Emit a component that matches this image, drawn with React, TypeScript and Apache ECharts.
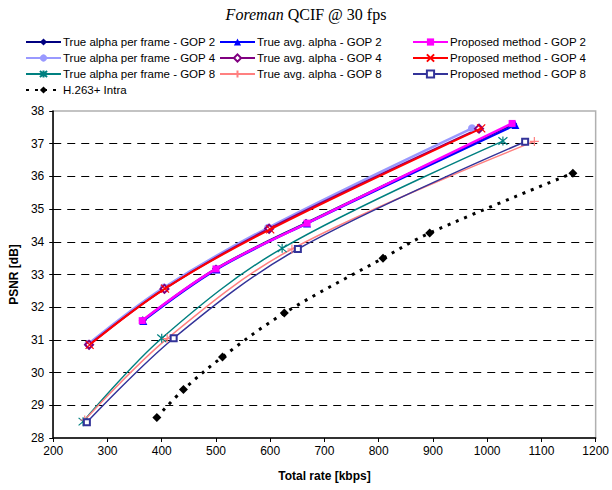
import React, { useEffect, useRef } from "react";
import * as echarts from "echarts";

// ---------- data ----------
const xTicks = [200, 300, 400, 500, 600, 700, 800, 900, 1000, 1100, 1200];
const yTicks = [28, 29, 30, 31, 32, 33, 34, 35, 36, 37, 38];

const gop2PerFrameRate = [365, 500, 666, 1048];
const gop2PerFramePsnr = [31.6, 33.18, 34.58, 37.6];
const gop2AvgRate = [366, 501, 668, 1052];
const gop2AvgPsnr = [31.58, 33.15, 34.56, 37.57];
const gop2PropRate = [364, 500, 668, 1046];
const gop2PropPsnr = [31.59, 33.17, 34.57, 37.62];

const gop4PerFrameRate = [265, 404, 596, 972];
const gop4PerFramePsnr = [30.88, 32.6, 34.43, 37.47];
const gop4AvgRate = [266, 405, 598, 985];
const gop4AvgPsnr = [30.85, 32.56, 34.4, 37.46];
const gop4PropRate = [267, 406, 600, 989];
const gop4PropPsnr = [30.85, 32.57, 34.38, 37.47];

const gop8PerFrameRate = [255, 400, 622, 1029];
const gop8PerFramePsnr = [28.5, 31.05, 33.8, 37.08];
const gop8AvgRate = [258, 410, 640, 1087];
const gop8AvgPsnr = [28.55, 31.04, 33.78, 37.07];
const gop8PropRate = [262, 422, 651, 1070];
const gop8PropPsnr = [28.48, 31.05, 33.78, 37.06];

const intraRate = [391, 440, 512, 626, 808, 894, 1158];
const intraPsnr = [28.63, 29.48, 30.48, 31.82, 33.5, 34.27, 36.1];

const names = [
  "True alpha per frame - GOP 2",
  "True avg. alpha - GOP 2",
  "Proposed method - GOP 2",
  "True alpha per frame - GOP 4",
  "True avg. alpha - GOP 4",
  "Proposed method - GOP 4",
  "True alpha per frame - GOP 8",
  "True avg. alpha - GOP 8",
  "Proposed method - GOP 8",
  "H.263+ Intra",
];

const X_PATH = "path://M0,0L10,10M10,0L0,10";
const STAR_PATH = "path://M0,0L10,10M10,0L0,10M5,-1L5,11";
const PLUS_PATH = "path://M5,0L5,10M0,5L10,5";

const zip = (a: number[], b: number[]) => a.map((v, i) => [v, b[i]]);

const FONT = "'Liberation Sans', Arial, sans-serif";
const SERIF = "'Liberation Serif', 'Times New Roman', serif";

export default function App() {
  const ref = useRef<HTMLDivElement>(null);
  useEffect(() => {
    if (!ref.current) return;
    const chart = echarts.init(ref.current, undefined, { renderer: "svg" });

    const mk = (
      i: number,
      rate: number[],
      psnr: number[],
      color: string,
      width: number,
      symbol: string,
      size: number,
      opts: any = {}
    ) => ({
      name: names[i],
      type: "line",
      data: zip(rate, psnr),
      smooth: 0.35,
      symbol,
      symbolSize: size,
      showSymbol: true,
      lineStyle: { color, width, type: opts.lineType || "solid" },
      itemStyle: {
        color: opts.fill || color,
        borderColor: color,
        borderWidth: opts.border ?? 0,
      },
      z: opts.z ?? 2,
    });

    const series = [
      mk(0, gop2PerFrameRate, gop2PerFramePsnr, "#000080", 2, "diamond", 8),
      mk(1, gop2AvgRate, gop2AvgPsnr, "#0000FF", 2, "triangle", 8),
      mk(2, gop2PropRate, gop2PropPsnr, "#FF00FF", 2.5, "rect", 7, { z: 3 }),
      mk(3, gop4PerFrameRate, gop4PerFramePsnr, "#9999FF", 2.5, "circle", 8),
      mk(4, gop4AvgRate, gop4AvgPsnr, "#800080", 2, "emptyDiamond", 8, { border: 1 }),
      mk(5, gop4PropRate, gop4PropPsnr, "#FF0000", 2, X_PATH, 8, { border: 1.2, fill: "#FF0000", z: 3 }),
      mk(6, gop8PerFrameRate, gop8PerFramePsnr, "#008080", 1.5, STAR_PATH, 9, { border: 1.2 }),
      mk(7, gop8AvgRate, gop8AvgPsnr, "#FF8080", 1.5, PLUS_PATH, 9, { border: 1.2 }),
      mk(8, gop8PropRate, gop8PropPsnr, "#333399", 1.5, "emptyRect", 6, { border: 1 }),
      mk(9, intraRate, intraPsnr, "#000000", 3, "diamond", 9, { lineType: [3, 6] }),
    ];

    const legendBase = {
      orient: "vertical" as const,
      top: 36,
      padding: 0,
      itemGap: 4,
      itemWidth: 35,
      itemHeight: 9,
      textStyle: { fontFamily: FONT, fontSize: 11.5, color: "#000", padding: [0, 0, 0, -3] },
      selectedMode: false,
    };

    chart.setOption({
      animation: false,
      backgroundColor: "#fff",
      title: {
        text: "{i|Foreman} QCIF @ 30 fps",
        left: "center",
        top: 1,
        textStyle: {
          fontFamily: SERIF,
          fontSize: 16,
          fontWeight: "normal",
          color: "#000",
          rich: {
            i: { fontFamily: SERIF, fontSize: 16, fontStyle: "italic", color: "#000" },
          },
        },
      },
      legend: [
        { ...legendBase, left: 25, data: [names[0], names[3], names[6], names[9]] },
        { ...legendBase, left: 219, data: [names[1], names[4], names[7]] },
        { ...legendBase, left: 412, data: [names[2], names[5], names[8]] },
      ],
      grid: {
        left: 53,
        right: 15,
        top: 111,
        bottom: 52,
        show: true,
        borderColor: "#b0b0b0",
        borderWidth: 1.5,
        backgroundColor: "transparent",
      },
      xAxis: {
        type: "value",
        min: xTicks[0],
        max: xTicks[xTicks.length - 1],
        interval: 100,
        name: "Total rate [kbps]",
        nameLocation: "middle",
        nameGap: 32,
        nameTextStyle: { fontFamily: FONT, fontSize: 12, fontWeight: "bold", color: "#000" },
        axisLine: { show: true, lineStyle: { color: "#000", width: 1.5 } },
        axisTick: { show: true, length: 4, lineStyle: { color: "#000" } },
        axisLabel: {
          fontFamily: FONT,
          fontSize: 12,
          color: "#000",
          margin: 7,
          formatter: (v: number) => String(v),
        },
        splitLine: { show: false },
      },
      yAxis: {
        type: "value",
        min: yTicks[0],
        max: yTicks[yTicks.length - 1],
        interval: 1,
        name: "PSNR [dB]",
        nameLocation: "middle",
        nameGap: 32,
        nameTextStyle: { fontFamily: FONT, fontSize: 12, fontWeight: "bold", color: "#000" },
        axisLine: { show: true, lineStyle: { color: "#000", width: 1.5 } },
        axisTick: { show: true, length: 4, lineStyle: { color: "#000" } },
        axisLabel: {
          fontFamily: FONT,
          fontSize: 12,
          color: "#000",
          margin: 9,
          formatter: (v: number) => String(v),
        },
        splitLine: {
          show: true,
          lineStyle: {
            color: yTicks.map((t, i) => (i === 0 || i === yTicks.length - 1 ? "transparent" : "#000")),
            type: [8, 6],
            width: 1,
          },
        },
      },
      series,
    });

    return () => chart.dispose();
  }, []);

  return (
    <div
      ref={ref}
      style={{ position: "fixed", left: 0, top: 0, width: 612, height: 490 }}
    />
  );
}
